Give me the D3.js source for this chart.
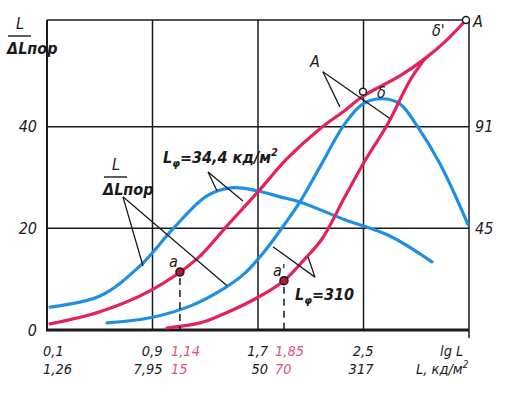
<!DOCTYPE html>
<html><head><meta charset="utf-8">
<script src="https://cdn.jsdelivr.net/npm/d3@7/dist/d3.min.js"></script>
<style>
body{margin:0;background:#fff}
text{font-family:"Liberation Sans Narrow","DejaVu Sans Condensed",sans-serif;font-style:italic;fill:#1a1a1a}
</style></head><body>
<svg id="chart" width="517" height="396"></svg>
<script>
// ---- data ----
const xGridLg = [0.9, 1.7, 2.5];
const xTickLg = [0.1, 0.9, 1.7, 2.5];
const xTickLgLabels = ["0,1", "0,9", "1,7", "2,5"];
const xTickLLabels = ["1,26", "7,95", "50", "317"];
const yTicks = [0, 20, 40];
const yTickLabels = ["0", "20", "40"];
const yRightTicks = [20, 40];
const yRightLabels = ["45", "91"];

const blue1Lg  = [0.123, 0.502, 0.805, 1.055, 1.313, 1.510, 1.692, 1.867, 2.018, 2.359, 2.700, 3.019];
const blue1Val = [4.5, 6.7, 12.6, 19.9, 26.4, 28.0, 27.4, 26.2, 25.2, 21.7, 18.5, 13.4];
const blue2Lg  = [0.555, 0.881, 1.184, 1.412, 1.601, 1.753, 1.904, 2.018, 2.170, 2.359, 2.496, 2.640, 2.776, 2.905, 3.080, 3.292];
const blue2Val = [1.4, 2.4, 4.7, 7.7, 11.2, 15.6, 20.9, 25.2, 32.1, 40.6, 44.5, 45.5, 44.5, 40.2, 32.7, 20.8];
const pink1Lg  = [0.123, 0.502, 0.881, 1.237, 1.472, 1.707, 1.920, 2.170, 2.359, 2.496, 2.776, 2.966, 3.125, 3.277];
const pink1Val = [1.2, 3.6, 7.7, 14.0, 20.7, 27.4, 33.7, 39.6, 43.2, 46.0, 50.0, 53.4, 56.9, 61.0];
const pink2Lg  = [1.010, 1.260, 1.434, 1.677, 1.897, 2.056, 2.185, 2.359, 2.511, 2.685, 2.852, 2.966];
const pink2Val = [0.4, 1.4, 3.1, 6.1, 9.7, 14.0, 17.9, 26.2, 33.3, 40.6, 49.1, 53.4];

// marked points a, a'
const markNames = ["a", "a'"];
const markLg = [1.108, 1.897];
const markVal = [11.4, 9.7];
const markLgLabels = ["1,14", "1,85"];
const markLLabels = ["15", "70"];
// open circles δ and A
const openLg = [2.496, 3.277];
const openVal = [46.9, 61.0];

// ---- layout ----
const svg = d3.select("#chart");
const x = d3.scaleLinear().domain([0.1, 3.3]).range([47, 469]);
const y = d3.scaleLinear().domain([0, 61]).range([330, 20]);
const BLUE = "#1f8fe3", PINK = "#e5215a", INK = "#1a1a1a", PINKTXT = "#e2508a";

// grid
const g = svg.append("g");
g.selectAll(".vg").data(xGridLg).join("line")
  .attr("x1", d => x(d)).attr("x2", d => x(d)).attr("y1", y(0)).attr("y2", y(61))
  .attr("stroke", INK).attr("stroke-width", 1.5);
g.selectAll(".hg").data([20, 40]).join("line")
  .attr("x1", x(0.1)).attr("x2", x(3.3)).attr("y1", d => y(d)).attr("y2", d => y(d))
  .attr("stroke", INK).attr("stroke-width", 1.5);
// frame
g.append("line").attr("x1", x(0.1)).attr("x2", x(3.3)).attr("y1", y(61)).attr("y2", y(61)).attr("stroke", INK).attr("stroke-width", 1.5);
g.append("line").attr("x1", x(3.3)).attr("x2", x(3.3)).attr("y1", y(61)).attr("y2", y(0) + 8).attr("stroke", INK).attr("stroke-width", 1.5);
g.append("line").attr("x1", x(0.1)).attr("x2", x(0.1)).attr("y1", y(61)).attr("y2", y(0)).attr("stroke", INK).attr("stroke-width", 2);
g.append("line").attr("x1", x(0.1) - 1).attr("x2", x(3.3)).attr("y1", y(0)).attr("y2", y(0)).attr("stroke", INK).attr("stroke-width", 3);

// curves
const line = d3.line().x(d => x(d[0])).y(d => y(d[1])).curve(d3.curveCatmullRom.alpha(0.5));
const series = [
  [blue1Lg, blue1Val, BLUE], [blue2Lg, blue2Val, BLUE],
  [pink1Lg, pink1Val, PINK], [pink2Lg, pink2Val, PINK]
];
series.forEach(([xs, vs, c]) => {
  svg.append("path").datum(d3.zip(xs, vs)).attr("d", line)
    .attr("fill", "none").attr("stroke", c).attr("stroke-width", 3.2).attr("stroke-linecap", "round");
});

// leader lines (annotation pointers), in data units
const pointers = [
  [[0.676, 26.2], [0.828, 12.6]], [[0.676, 26.2], [1.465, 8.7]],
  [[1.321, 31.1], [1.389, 27.4]], [[1.321, 31.1], [1.586, 25.4]],
  [[2.132, 10.4], [1.813, 16.4]], [[2.132, 10.4], [2.079, 14.4]],
  [[2.192, 50.8], [2.321, 43.9]], [[2.192, 50.8], [2.700, 41.6]]
];
svg.selectAll(".ptr").data(pointers).join("line")
  .attr("x1", d => x(d[0][0])).attr("y1", d => y(d[0][1]))
  .attr("x2", d => x(d[1][0])).attr("y2", d => y(d[1][1]))
  .attr("stroke", INK).attr("stroke-width", 1.3);

// dashed drops and marked points
svg.selectAll(".drop").data(markLg).join("line")
  .attr("x1", d => x(d)).attr("x2", d => x(d))
  .attr("y1", (d, i) => y(markVal[i]) + 6).attr("y2", y(0))
  .attr("stroke", INK).attr("stroke-width", 1.5).attr("stroke-dasharray", "7,5");
svg.selectAll(".mk").data(markLg).join("circle")
  .attr("cx", d => x(d)).attr("cy", (d, i) => y(markVal[i])).attr("r", 4)
  .attr("fill", "#b0183e").attr("stroke", INK).attr("stroke-width", 1.5);
svg.selectAll(".op").data(openLg).join("circle")
  .attr("cx", d => x(d)).attr("cy", (d, i) => y(openVal[i])).attr("r", 3.5)
  .attr("fill", "#fff").attr("stroke", INK).attr("stroke-width", 1.5);

// axis labels
const fs = 16, bfs = 14.5, row1 = 356, row2 = 374;
svg.selectAll(".yl").data(yTicks).join("text")
  .attr("x", 37).attr("y", d => y(d)).attr("dy", "0.36em").attr("text-anchor", "end")
  .attr("font-size", fs).text((d, i) => yTickLabels[i]);
svg.selectAll(".yr").data(yRightTicks).join("text")
  .attr("x", 475).attr("y", d => y(d)).attr("dy", "0.36em")
  .attr("font-size", fs).text((d, i) => yRightLabels[i]);
xTickLg.forEach((v, i) => {
  const first = i === 0;
  [[xTickLgLabels[i], row1], [xTickLLabels[i], row2]].forEach(([t, yy]) => {
    svg.append("text").attr("x", first ? x(v) - 4 : x(v) + 10).attr("y", yy)
      .attr("text-anchor", first ? "start" : "end").attr("font-size", bfs).text(t);
  });
});
markLg.forEach((v, i) => {
  [[markLgLabels[i], row1], [markLLabels[i], row2]].forEach(([t, yy]) => {
    svg.append("text").attr("x", x(v) - 9).attr("y", yy).attr("font-size", bfs)
      .style("fill", PINKTXT).text(t);
  });
  svg.append("text").attr("x", x(v) - 11).attr("y", y(markVal[i]) - 5)
    .attr("font-size", 16).text(markNames[i]);
});
svg.append("text").attr("x", 440).attr("y", row1).attr("font-size", bfs).text("lg L");
const lu = svg.append("text").attr("x", 416).attr("y", row2).attr("font-size", bfs);
lu.append("tspan").text("L, кд/м");
lu.append("tspan").attr("font-size", 10).attr("dy", -6).text("2");

// fraction labels
function fraction(xx, yBase) {
  svg.append("text").attr("x", xx + 9).attr("y", yBase - 25).attr("font-size", 16).text("L");
  svg.append("line").attr("x1", xx + 1).attr("x2", xx + 24).attr("y1", yBase - 18).attr("y2", yBase - 18)
    .attr("stroke", INK).attr("stroke-width", 1.4);
  svg.append("text").attr("x", xx).attr("y", yBase).attr("font-size", 16).attr("font-weight", "bold").text("ΔLпор");
}
fraction(7, 54);
fraction(103, 195);

function lphi(xx, yy, rest, sup) {
  const t = svg.append("text").attr("x", xx).attr("y", yy).attr("font-size", 16).attr("font-weight", "bold");
  t.append("tspan").text("L");
  t.append("tspan").attr("font-size", 11).attr("dy", 4).text("φ");
  t.append("tspan").attr("dy", -4).text(rest);
  if (sup) t.append("tspan").attr("font-size", 11).attr("dy", -7).text(sup);
}
lphi(163, 163, "=34,4 кд/м", "2");
lphi(295, 300, "=310", null);

svg.append("text").attr("x", 310).attr("y", 67).attr("font-size", 16).text("A");
svg.append("text").attr("x", 473).attr("y", 27).attr("font-size", 16).text("A");
svg.append("text").attr("x", 377).attr("y", 98).attr("font-size", 16).text("δ");
svg.append("text").attr("x", 432).attr("y", 36).attr("font-size", 16).text("δ'");
</script>
</body></html>
